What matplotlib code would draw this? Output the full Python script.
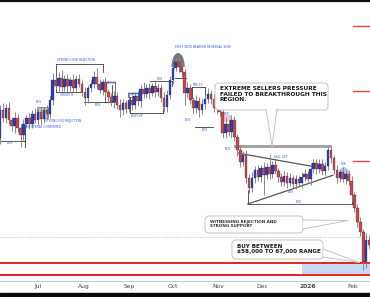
import numpy as np
import matplotlib.pyplot as plt
import matplotlib.dates as mdates
from matplotlib.patches import Rectangle, FancyBboxPatch, Polygon
from datetime import date

# BTC 2-day candles, prices in $k
start_day = date(2025, 6, 5)
first_open = 99.3
closes = [108.5, 105.9, 109.2, 105.2, 103.2, 105.9, 102.6, 100.3, 103.9, 105.9,
          103.9, 107.2, 105.2, 107.8, 105.5, 108.5, 107.2, 111.8, 118.4, 116.4,
          119.1, 116.1, 118.7, 116.4, 118.4, 115.8, 118.7, 117.1, 114.4, 112.5,
          115.8, 117.1, 119.4, 117.1, 115.1, 117.7, 114.4, 112.8, 111.1, 113.1,
          110.2, 108.5, 110.8, 108.8, 111.8, 110.2, 113.1, 111.5, 115.4, 113.8,
          115.8, 114.1, 116.4, 114.4, 115.8, 112.5, 109.5, 113.5, 118.4, 122.4,
          124.3, 122.7, 121.0, 114.1, 115.8, 111.8, 109.2, 111.5, 108.5, 110.5,
          112.1, 113.8, 112.1, 109.2, 110.5, 107.8, 100.9, 103.9, 101.2, 105.2,
          99.6, 95.3, 91.3, 93.7, 86.1, 82.8, 86.1, 88.7, 86.4, 89.4,
          87.1, 89.7, 87.4, 90.4, 88.4, 86.4, 84.7, 86.7, 84.4, 86.1,
          84.1, 85.7, 84.4, 86.4, 87.4, 85.7, 89.0, 91.0, 89.0, 90.7,
          88.4, 90.0, 95.3, 92.7, 88.7, 86.1, 88.0, 85.7, 87.4, 85.1,
          80.4, 76.2, 71.5, 68.2, 58.3, 65.6, 64.0]
wick_up = [1.5, 2.2, 1.2, 1.8, 1.0, 2.0, 1.4, 1.2, 1.8, 1.0,
           1.6, 1.2, 2.0, 1.4, 1.8, 1.0, 1.6, 1.2, 2.2, 1.4,
           1.8, 2.6, 1.2, 1.6, 1.0, 2.0, 1.4, 1.8, 1.2, 1.6,
           1.0, 1.4, 2.0, 3.0, 1.6, 1.2, 1.8, 1.0, 1.4, 1.6,
           1.2, 1.8, 1.4, 1.0, 2.0, 1.6, 1.2, 1.8, 1.4, 2.2,
           1.2, 1.6, 1.0, 2.0, 1.4, 1.2, 1.8, 1.6, 1.4, 1.2,
           1.7, 1.8, 1.6, 1.2, 2.0, 1.4, 1.0, 1.8, 1.2, 1.6,
           1.4, 2.0, 1.2, 1.6, 1.0, 1.8, 1.4, 2.4, 1.2, 1.6,
           1.4, 1.0, 1.8, 1.2, 1.6, 1.4, 2.0, 1.2, 1.6, 1.0,
           1.8, 1.4, 4.0, 1.2, 1.6, 1.0, 1.4, 1.8, 1.2, 1.6,
           1.0, 1.4, 1.2, 1.8, 1.6, 1.0, 2.0, 1.4, 1.2, 1.6,
           1.8, 1.2, 1.0, 1.4, 1.0, 1.6, 1.2, 1.8, 1.4, 1.2,
           1.6, 1.0, 1.4, 1.8, 1.2, 2.4, 1.6]
wick_dn = [2.0, 1.4, 1.8, 1.2, 1.6, 2.2, 1.4, 4.0, 1.6, 1.2,
           1.8, 1.4, 1.0, 1.6, 2.0, 1.2, 1.8, 1.4, 1.6, 1.0,
           1.8, 1.2, 1.4, 2.0, 1.6, 1.2, 1.8, 1.0, 1.4, 2.4,
           1.6, 1.2, 1.4, 1.8, 1.0, 1.6, 1.2, 2.0, 1.4, 1.8,
           1.2, 2.3, 1.6, 1.4, 1.0, 1.8, 1.2, 1.6, 2.0, 1.4,
           1.2, 1.8, 1.0, 1.6, 1.4, 1.2, 1.5, 1.6, 1.2, 1.4,
           1.0, 1.8, 1.6, 3.9, 1.4, 1.2, 2.0, 1.6, 2.4, 1.4,
           1.8, 1.2, 1.6, 1.4, 2.0, 1.2, 1.5, 1.6, 1.4, 1.8,
           1.2, 2.0, 1.6, 1.4, 1.8, 1.7, 1.2, 1.6, 1.4, 1.8,
           6.6, 1.2, 1.6, 1.4, 1.0, 1.8, 1.4, 1.2, 1.6, 1.0,
           1.4, 1.8, 1.2, 1.6, 1.4, 1.0, 1.8, 1.2, 1.6, 1.4,
           1.2, 1.8, 1.4, 1.6, 1.2, 1.8, 1.4, 1.0, 1.6, 1.2,
           1.8, 1.4, 1.6, 1.2, 2.6, 1.8, 1.4]

month_ticks = [date(2025, 7, 1), date(2025, 8, 1), date(2025, 9, 1), date(2025, 10, 1),
               date(2025, 11, 1), date(2025, 12, 1), date(2026, 1, 1), date(2026, 2, 1)]
month_labels = ['Jul', 'Aug', 'Sep', 'Oct', 'Nov', 'Dec', '2026', 'Feb']

buy_zone = (54.1, 58.0)
support_level = 66.6
target_levels = [136.2, 114.8, 91.7]

# structure lines drawn by the analyst: (candle from, candle to, price)
struct_h = [(0, 8.5, 98.3), (19.1, 35.2, 123.7), (19.1, 28.0, 114.5),
            (28.7, 38.2, 111.1), (44.4, 55.6, 107.5), (51.2, 58.7, 118.1),
            (59.7, 63.5, 119.1), (65.5, 70.0, 116.1), (66.6, 72.7, 102.9),
            (84.6, 120.1, 77.5)]
struct_v = [(8.5, 96.3, 103.6), (19.1, 114.5, 123.7), (35.2, 121.0, 123.7),
            (38.2, 111.1, 116.8), (44.4, 107.5, 112.8), (55.6, 107.5, 109.2),
            (58.7, 116.4, 118.1), (65.5, 112.5, 116.1), (70.0, 113.5, 116.1),
            (84.6, 77.5, 82.1), (120.1, 77.5, 86.4)]
triangle = [((81.2, 94.3), (107.8, 89.7)), ((84.6, 77.5), (113.7, 87.0))]

d0 = mdates.date2num(start_day)


def cx(i):
    return d0 + 2 * i


fig = plt.figure(figsize=(3.7, 2.97), dpi=100, facecolor='white')
ax = fig.add_axes([0, 16 / 297, 1, 281 / 297])
ax.set_xlim(d0, d0 + 252.6)
ax.set_ylim(52.1, 144.8)

# candles
n = len(closes)
opens = [first_open] + closes[:-1]
xs = [cx(i) for i in range(n)]
for i in range(n):
    o, c = opens[i], closes[i]
    hi = max(o, c) + wick_up[i]
    lo = min(o, c) - wick_dn[i]
    ax.vlines(xs[i], lo, hi, color='#8a8a8a', lw=0.7, zorder=3)
bottoms = [min(o, c) for o, c in zip(opens, closes)]
heights = [max(abs(c - o), 0.4) for o, c in zip(opens, closes)]
cols = ['#2340c8' if c >= o else '#c8474c' for o, c in zip(opens, closes)]
ax.bar(xs, heights, bottom=bottoms, width=1.75, color=cols,
       edgecolor='#2b2b2b', linewidth=0.2, zorder=4)

# levels
ax.axhspan(buy_zone[0], buy_zone[1], xmin=302 / 370, xmax=1, color='#c9daf6', zorder=1, lw=0)
for lv in buy_zone:
    ax.axhline(lv, color='#e82020', lw=1.4, zorder=2)
ax.axhline(support_level, color='#9fb6ee', lw=0.5, ls=(0, (2, 2)), zorder=2)
for lv in target_levels:
    ax.axhline(lv, xmin=353 / 370, xmax=1, color='#e84545', lw=1.0, zorder=2)

# structure
for a, b, p in struct_h:
    ax.plot([cx(a), cx(b)], [p, p], color='#3d3d3d', lw=0.6, zorder=2)
for a, p0, p1 in struct_v:
    ax.plot([cx(a), cx(a)], [p0, p1], color='#3d3d3d', lw=0.6, zorder=2)
for (a, pa), (b, pb) in triangle:
    ax.plot([cx(a), cx(b)], [pa, pb], color='#555555', lw=0.9, zorder=2)
ax.add_patch(Rectangle((cx(12.6), 105.9), 7.6, 3.6, fc='#b0b0b0', ec='#3d3d3d', lw=0.5, alpha=0.7, zorder=2))
ax.add_patch(Rectangle((cx(35.8), 111.1), 6.8, 6.6, fill=False, ec='#3d3d3d', lw=0.5, zorder=2))
ax.add_patch(Rectangle((cx(43.7), 112.8), 8.2, 1.3, fill=False, ec='#3d3d3d', lw=0.5, zorder=2))
ax.add_patch(Rectangle((cx(76.1), 104.6), 6.2, 2.3, fc='#f7c6c8', ec='none', zorder=2))
ax.add_patch(Rectangle((cx(80), 96.0), cx(113.3) - cx(80), 1.0, fc='#9a9a9a', ec='none', alpha=0.9, zorder=2))

t = np.linspace(0, np.pi, 40)
ax.add_patch(Polygon(np.c_[cx(60.8) + 4.5 * np.cos(t), 122.7 + 4.6 * np.sin(t)],
                     fc='#555555', alpha=0.8, ec='none', zorder=2))
ax.add_patch(Polygon(np.c_[cx(117.4) + 4.2 * np.cos(t), 86.1 + 3.6 * np.sin(t)],
                     fc='#a9c3f0', alpha=0.9, ec='none', zorder=2))

ax.set_yticks([])
ax.set_xticks([mdates.date2num(d) for d in month_ticks])
ax.set_xticklabels(month_labels)
ax.tick_params(axis='x', length=0, labelsize=4.3, colors='#444444', pad=2.5)
ax.get_xticklabels()[6].set_fontweight('bold')
for s in ['top', 'left', 'right']:
    ax.spines[s].set_visible(False)
ax.spines['bottom'].set_color('#c4c4c4')
ax.spines['bottom'].set_linewidth(0.7)

# overlay in pixel space for callouts
ov = fig.add_axes([0, 0, 1, 1], zorder=5)
ov.set_xlim(0, 370)
ov.set_ylim(297, 0)
ov.axis('off')
ov.plot([0, 370], [1, 1], color='#111111', lw=1.6)
ov.add_patch(Rectangle((0, 292.5), 370, 5, color='#0a0a0a'))

edge = '#c4c4c4'


def callout(x, y, w, h, tip_pts, tip):
    ov.add_patch(FancyBboxPatch((x, y), w, h, boxstyle='round,pad=0,rounding_size=4',
                                fc='white', ec=edge, lw=0.7, zorder=5))
    ov.add_patch(Polygon(tip_pts + [tip], fc='white', ec='none', zorder=6))
    for p in tip_pts:
        ov.plot([p[0], tip[0]], [p[1], tip[1]], color=edge, lw=0.7, zorder=6)


callout(215, 83, 113, 27, [(266, 109.2), (277, 109.2)], (272, 146))
ov.text(220, 86, 'EXTREME SELLERS PRESSURE\nFAILED TO BREAKTHROUGH THIS\nREGION.',
        fontsize=4.2, fontweight='bold', color='#1a1a1a', va='top', ha='left',
        linespacing=1.15, zorder=7)
callout(205, 216, 98, 17, [(303.2, 220), (303.2, 229)], (348, 220.5))
ov.text(210, 219.5, 'WITNESSING REJECTION AND\nSTRONG SUPPORT',
        fontsize=3.0, fontweight='bold', color='#333333', va='top', ha='left',
        linespacing=1.15, zorder=7)
callout(232, 240, 91, 19, [(323.2, 249), (323.2, 257)], (359, 262.5))
ov.text(237, 243.5, 'BUY BETWEEN\n$58,000 TO 67,000 RANGE',
        fontsize=4.1, fontweight='bold', color='#1a1a1a', va='top', ha='left',
        linespacing=1.15, zorder=7)

small_labels = [('STRONG HIGH REJECTION', 57, 60), ('FIRST WICK BEARISH REVERSAL SIGN', 175, 47),
                ('STRONG FVG REJECTION', 45, 121), ('REVERSAL CONFIRMED', 27, 127),
                ('FVG', 36, 102), ('ORDER B', 60, 95.5), ('BOS', 95, 105), ('BET-40', 107, 83),
                ('CHANGE', 128, 94), ('BUILT-UP', 131, 116), ('BOS', 157, 79.5),
                ('FYB-00', 193, 85), ('BOS', 185, 120), ('BOS', 202, 130), ('FVB', 224, 114),
                ('BOS', 225, 149), ('SELL OFF', 274, 157), ('BOS', 288, 192), ('BOS', 296, 202),
                ('FVB', 341, 164), ('BOS', 7, 143)]
for txt, x, y in small_labels:
    ov.text(x, y, txt, fontsize=2.2, color='#3a5bd9', va='center', ha='left', zorder=7)

fig.savefig('out.png', dpi=100)
